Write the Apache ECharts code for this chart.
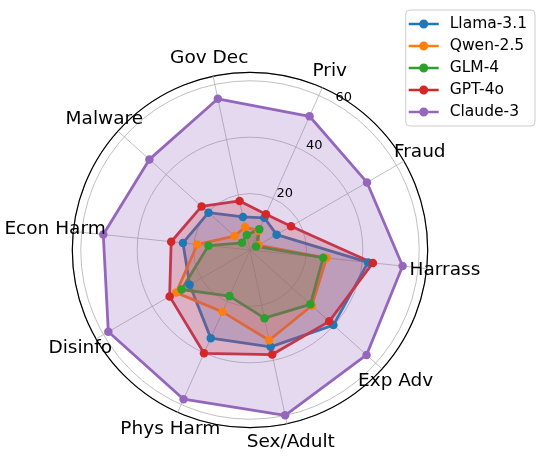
<!DOCTYPE html>
<html>
<head>
<meta charset="utf-8">
<script src="https://cdn.jsdelivr.net/npm/echarts@6/dist/echarts.min.js"></script>
<style>
  html, body { margin: 0; padding: 0; background: #fff; }
  #chart { width: 550px; height: 456px; }
</style>
</head>
<body>
<div id="chart"></div>
<script>
// categories in the paper's clockwise order, starting at Priv
const categories = ["Priv", "Fraud", "Harrass", "Exp Adv", "Sex/Adult", "Phys Harm", "Disinfo", "Econ Harm", "Malware", "Gov Dec"];
const models = ["Llama-3.1", "Qwen-2.5", "GLM-4", "GPT-4o", "Claude-3"];
const llama = [12.5, 10.9, 42.1, 39.8, 35.1, 34.2, 24.7, 23.9, 19.8, 12.0];
const qwen = [7.5, 3.5, 27.3, 29.5, 32.7, 24.0, 30.2, 18.8, 7.4, 8.3];
const glm = [8.1, 2.5, 26.1, 28.8, 24.7, 17.9, 28.0, 14.8, 3.8, 5.4];
const gpt = [13.9, 16.8, 43.8, 37.8, 37.9, 40.1, 32.9, 28.1, 23.1, 17.8];
const claude = [51.9, 47.9, 54.4, 55.6, 59.9, 57.9, 58.0, 52.3, 48.0, 54.8];
const radialTicks = [20, 40, 60];
const rMax = 63;

const colors = ["#1f77b4", "#ff7f0e", "#2ca02c", "#d62728", "#9467bd"];
const FONT = "DejaVu Sans";
const CX = 250, CY = 250, R = 177.7, START = 66;

// echarts radar goes counterclockwise, the reference goes clockwise
function ccw(arr) {
  return [arr[0]].concat(arr.slice(1).reverse());
}
const cats = ccw(categories);
const seriesData = [llama, qwen, glm, gpt, claude];

const chart = echarts.init(document.getElementById("chart"));

const legendIcon = "path://M0,3.7H30V6.3H0Z M19.5,5A4.5,4.5,0,1,1,10.5,5A4.5,4.5,0,1,1,19.5,5Z";
const clear = "rgba(0,0,0,0)";

const option = {
  animation: false,
  color: colors,
  legend: {
    orient: "vertical",
    right: 15,
    top: 10,
    data: models.map(function (m) { return { name: m, icon: legendIcon }; }),
    itemWidth: 30,
    itemHeight: 10,
    itemGap: 4,
    padding: [5, 8, 5, 3],
    borderColor: "#cccccc",
    borderWidth: 1,
    borderRadius: 4,
    backgroundColor: "rgba(255,255,255,0.8)",
    textStyle: { fontFamily: FONT, fontSize: 15.5, color: "#000", lineHeight: 18, padding: [0, 0, 0, 6] }
  },
  radar: {
    center: [CX, CY],
    radius: R,
    startAngle: START,
    shape: "circle",
    indicator: cats.map(function (c) { return { name: c, min: 0, max: rMax }; }),
    axisName: { show: false },
    splitNumber: 1,
    splitLine: { show: false },
    splitArea: { show: false },
    axisLine: { lineStyle: { color: "#b0b0b0", width: 0.8 } },
    z: 1
  },
  polar: [
    { center: [CX, CY], radius: R },
    { center: [CX, CY], radius: [190, 202] },
    { center: [CX, CY], radius: [10, R + 10] }
  ],
  angleAxis: [
    {
      polarIndex: 0, type: "value", min: 0, max: 360,
      axisLine: { lineStyle: { color: "#000", width: 1.2 } },
      axisTick: { show: false }, axisLabel: { show: false }, splitLine: { show: false }
    },
    {
      polarIndex: 1, type: "category", data: cats, boundaryGap: false,
      startAngle: START, clockwise: false,
      axisLine: { show: false }, axisTick: { show: false }, axisLabel: { show: false }, splitLine: { show: false }
    },
    {
      polarIndex: 2, type: "value", min: 0, max: 360, startAngle: 58.5,
      axisLine: { show: false }, axisTick: { show: false }, axisLabel: { show: false }, splitLine: { show: false }
    }
  ],
  radiusAxis: [
    {
      polarIndex: 0, type: "value", min: 0, max: rMax, interval: 20,
      axisLine: { show: false }, axisTick: { show: false }, axisLabel: { show: false },
      splitLine: { lineStyle: { color: "#b0b0b0", width: 0.8 } }
    },
    {
      polarIndex: 1, type: "category", data: ["lbl"],
      axisLine: { show: false }, axisTick: { show: false }, axisLabel: { show: false }, splitLine: { show: false }
    },
    {
      polarIndex: 2, type: "value", min: 0, max: rMax,
      axisLine: { show: false }, axisTick: { show: false }, axisLabel: { show: false }, splitLine: { show: false }
    }
  ],
  series: [
    {
      type: "radar",
      symbol: "circle",
      symbolSize: 8.5,
      z: 2,
      data: seriesData.map(function (d, i) {
        return {
          name: models[i],
          value: ccw(d),
          lineStyle: { color: colors[i], width: 2.8 },
          itemStyle: { color: colors[i] },
          areaStyle: { color: colors[i], opacity: 0.25 }
        };
      })
    },
    {
      // category names around the circle
      type: "scatter",
      coordinateSystem: "polar",
      polarIndex: 1,
      symbolSize: 1,
      itemStyle: { color: clear },
      silent: true,
      z: 5,
      label: {
        show: true, position: "inside", formatter: "{b}", fontFamily: FONT, fontSize: 18.5,
        color: "#000", textBorderWidth: 0, opacity: 1
      },
      data: cats.map(function (c, i) { return { name: c, value: [0, i] }; })
    },
    {
      // radial tick labels
      type: "scatter",
      coordinateSystem: "polar",
      polarIndex: 2,
      symbolSize: 1,
      itemStyle: { color: clear },
      silent: true,
      z: 5,
      label: {
        show: true, position: "inside", fontFamily: FONT, fontSize: 13,
        color: "#000", textBorderWidth: 0, opacity: 1,
        formatter: function (p) { return String(p.value[0]); }
      },
      data: radialTicks.map(function (v) { return [v, 0]; })
    }
  ]
};

chart.setOption(option);
</script>
</body>
</html>
